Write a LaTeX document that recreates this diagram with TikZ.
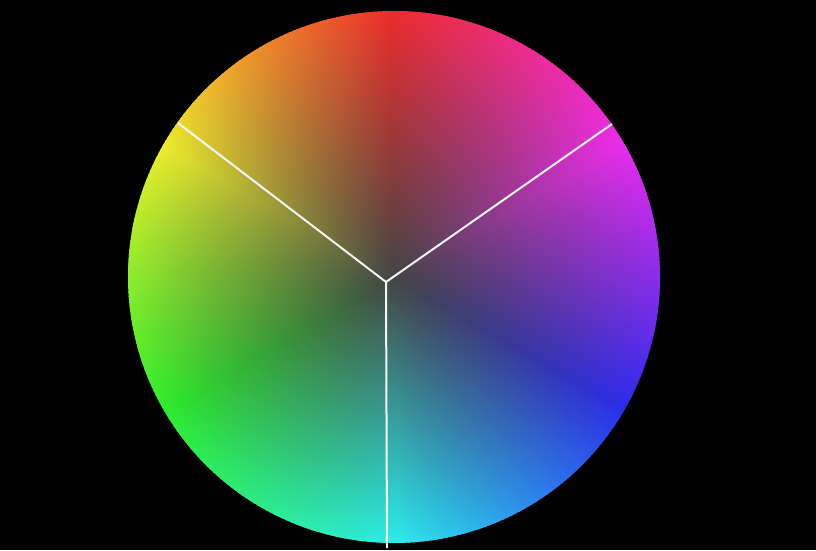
\documentclass[tikz,border=0pt]{standalone}
\usepackage{xcolor}
\usepackage{tikz}
\usetikzlibrary{fadings}
\definecolor{WheelBack}{HTML}{000000}
\definecolor{WheelCore}{HTML}{454545}
\definecolor{WheelRim}{HTML}{B8B8B8}
\definecolor{WheelSpoke}{HTML}{F4F4F4}
\tikzfading[name=corefade, inner color=transparent!0, outer color=transparent!100]
\tikzset{
  backdrop/.style={fill=WheelBack},
  core/.style={fill=WheelCore, path fading=corefade},
  spoke/.style={draw=WheelSpoke, line width=2pt}
}

\begin{document}
\begin{tikzpicture}[x=1pt, y=1pt]
  \fill[backdrop] (0,0) rectangle (816,550);
  \coordinate (wheel) at (394,273);
  \coordinate (hub) at (386,268);
  \coordinate (rimyellow) at (178,427);
  \coordinate (rimmagenta) at (612,426);
  \coordinate (rimcyan) at (387,2);

  % hue ring, red on top
  \foreach \h in {0,...,359} {
    \pgfmathsetmacro{\a}{90+\h}
    \definecolor{huecol}{Hsb}{\h,1,1}
    \colorlet{huergb}[rgb]{huecol}
    \fill[huergb!76!WheelRim] (wheel) -- ++(\a:266)
      arc[start angle=\a, end angle=\a+1.6, radius=266] -- cycle;
  }
  % grey towards the middle
  \fill[core] (wheel) circle[radius=266];

  \draw[spoke] (hub) -- (rimyellow);
  \draw[spoke] (hub) -- (rimmagenta);
  \draw[spoke] (hub) -- (rimcyan);
\end{tikzpicture}
\end{document}
